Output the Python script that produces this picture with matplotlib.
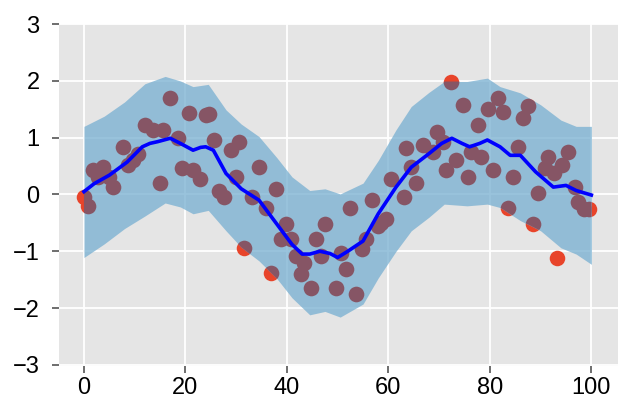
import numpy as np
import matplotlib.pyplot as plt

# puntos observados
x_pts = [0, 0.8, 1.8, 2.8, 3.7, 5, 5.7, 7.7, 8.6, 9.6, 10.6, 12, 13.6, 15.6, 16.9, 18.5, 14.9,
         20.8, 24, 24.7, 19.4, 21.4, 22.8, 25.7, 29, 30.6, 26.7, 27.6, 30, 34.5, 33.1, 35.9,
         37.8, 31.6, 36.9, 39.8, 38.8, 40.8, 41.8, 43.3, 42.7, 44.7, 45.7, 47.6, 46.7, 49.6,
         50.6, 51.6, 53.7, 54.7, 55.5, 58.6, 59.6, 58, 52.5, 56.7, 60.6, 63, 65.5, 64.5, 63.5,
         66.8, 68.8, 69.5, 70.8, 72.4, 74.7, 73.3, 71.4, 75.7, 77.6, 76.3, 78.2, 79.6, 81.6,
         82.5, 80.6, 84.5, 85.5, 87.5, 86.5, 83.5, 88.4, 89.4, 91.4, 90.8, 92.7, 94.3, 95.3,
         93.3, 96.7, 97.3, 98.6, 99.6]
y_pts = [-0.05, -0.2, 0.43, 0.3, 0.48, 0.3, 0.13, 0.84, 0.52, 0.6, 0.72, 1.23, 1.14, 1.14, 1.7,
         1.0, 0.2, 1.44, 1.4, 1.42, 0.46, 0.43, 0.28, 0.96, 0.78, 0.93, 0.07, -0.05, 0.3, 0.48,
         -0.05, -0.23, 0.1, -0.94, -1.38, -0.52, -0.78, -0.78, -1.08, -1.2, -1.4, -1.65, -0.78,
         -0.52, -1.08, -1.65, -1.03, -1.32, -1.76, -0.96, -0.78, -0.5, -0.43, -0.55, -0.23,
         -0.1, 0.28, -0.05, 0.2, 0.48, 0.82, 0.87, 0.75, 1.1, 0.93, 1.99, 1.58, 0.6, 0.43, 0.3,
         1.23, 0.75, 0.66, 1.5, 1.7, 1.46, 0.43, 0.3, 0.84, 1.55, 1.35, -0.23, -0.52, 0.02,
         0.66, 0.46, 0.37, 0.52, 0.75, -1.12, 0.13, -0.14, -0.25, -0.25]

# media
x_media = [0, 2, 5, 8.5, 11.5, 13, 14.5, 17, 19, 21.5, 23, 24, 25.5, 28, 31, 34.5, 38, 41, 43,
           44.5, 46.5, 48.5, 50, 52, 55, 58, 61.5, 64.5, 68, 70.5, 72.5, 74.5, 76, 78, 79.5,
           82, 84, 86, 89, 92.5, 95, 97, 100]
y_media = [0.05, 0.19, 0.34, 0.57, 0.84, 0.9, 0.93, 0.99, 0.9, 0.78, 0.83, 0.84, 0.78, 0.37,
           0.1, -0.1, -0.52, -0.88, -1.05, -1.05, -1.0, -1.04, -1.11, -1.0, -0.82, -0.34, 0.13,
           0.48, 0.72, 0.9, 0.99, 0.9, 0.84, 0.9, 0.96, 0.84, 0.69, 0.69, 0.4, 0.13, 0.16,
           0.07, -0.01]

# banda de confianza
x_banda = [0, 4, 8, 12, 16, 19, 21.5, 24.5, 28, 31, 34.5, 38, 41, 44.5, 47.5, 50.5, 55, 58,
           61.5, 64.5, 68, 71, 75.5, 79.5, 82, 86, 90, 94, 97, 100]
banda_sup = [1.2, 1.38, 1.63, 1.95, 2.08, 2.0, 1.9, 1.94, 1.49, 1.24, 1.02, 0.65, 0.31, 0.07,
             0.1, 0.01, 0.2, 0.6, 1.14, 1.55, 1.8, 1.99, 1.99, 2.05, 1.9, 1.79, 1.58, 1.31,
             1.2, 1.2]
banda_inf = [-1.11, -0.87, -0.6, -0.38, -0.15, -0.22, -0.34, -0.28, -0.64, -0.93, -1.17,
             -1.48, -1.82, -2.12, -2.06, -2.16, -1.93, -1.47, -1.0, -0.64, -0.4, -0.17, -0.2,
             -0.17, -0.23, -0.46, -0.64, -0.94, -1.05, -1.23]

xticks = [0, 20, 40, 60, 80, 100]
yticks = [-3, -2, -1, 0, 1, 2, 3]

plt.rcParams['font.family'] = ['Liberation Sans', 'DejaVu Sans']

fig = plt.figure(figsize=(6.22, 4.03), dpi=100)
ax = fig.add_axes([0.095, 0.092, 0.899, 0.848])
ax.set_facecolor('#e5e5e5')
for s in ax.spines.values():
    s.set_visible(False)
ax.grid(True, color='white', linewidth=1.3)
ax.set_axisbelow(True)

ax.scatter(x_pts, y_pts, s=125, color='#e8442a', linewidths=0, zorder=2)
banda = ax.fill_between(x_banda, banda_inf, banda_sup, color='#77afd1', alpha=0.75,
                        linewidth=0, zorder=3)
dentro = ax.scatter(x_pts, y_pts, s=125, color='#865565', linewidths=0, zorder=4)
dentro.set_clip_path(banda.get_paths()[0], transform=ax.transData)
ax.plot(x_media, y_media, color='#0000ff', linewidth=2.6, solid_joinstyle='round', zorder=5)

ax.set_xlim(-4.9, 105.3)
ax.set_ylim(-3.02, 3.0)
ax.set_xticks(xticks)
ax.set_yticks(yticks)
ax.tick_params(labelsize=17, length=5, width=1.2, color='#555555')
ax.tick_params(axis='x', pad=3)
ax.tick_params(axis='y', pad=9)

fig.savefig('out.png', dpi=100)
